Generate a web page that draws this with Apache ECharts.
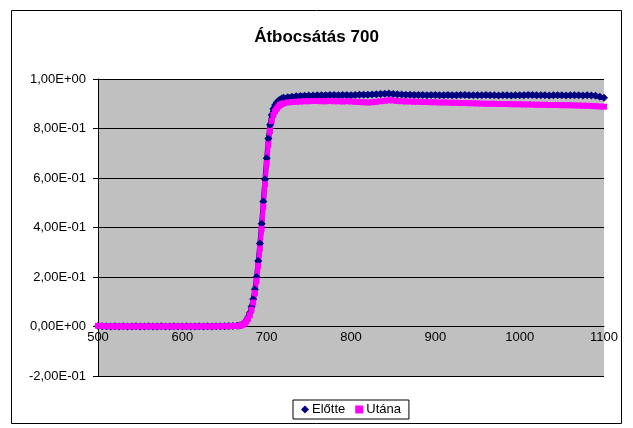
<!DOCTYPE html>
<html>
<head>
<meta charset="utf-8">
<script src="https://cdn.jsdelivr.net/npm/echarts@6/dist/echarts.min.js"></script>
<style>
  html, body { margin: 0; padding: 0; background: #fff; }
  #chart { width: 633px; height: 428px; }
</style>
</head>
<body>
<div id="chart"></div>
<script>
// wavelength (nm) and transmission
var wavelengths = [
  500, 505, 510, 515, 520, 525, 530, 535, 540, 545, 550, 555, 560, 565, 570, 575, 580,
  585, 590, 595, 600, 605, 610, 615, 620, 625, 630, 635, 640, 645, 650, 655, 660, 665,
  668, 670, 672, 674, 676, 678, 680, 682, 684, 686, 688, 690, 692, 694, 696, 698, 700,
  702, 704, 706, 708, 710, 712, 714, 716, 718, 720,
  725, 730, 735, 740, 745, 750, 755, 760, 765, 770, 775, 780, 785, 790, 795, 800,
  805, 810, 815, 820, 825, 830, 835, 840, 845, 850, 855, 860, 865, 870, 875, 880,
  885, 890, 895, 900, 905, 910, 915, 920, 925, 930, 935, 940, 945, 950, 955, 960,
  965, 970, 975, 980, 985, 990, 995, 1000, 1005, 1010, 1015, 1020, 1025, 1030, 1035, 1040,
  1045, 1050, 1055, 1060, 1065, 1070, 1075, 1080, 1085, 1090, 1095, 1100
];
var elotte = [
  0.002, 0.001, 0.001, 0.000, 0.001, 0.000, 0.001, 0.000, 0.000, 0.001, 0.000, 0.000, 0.001, 0.000, 0.000, 0.001, 0.000,
  0.000, 0.001, 0.000, 0.000, 0.001, 0.000, 0.000, 0.001, 0.000, 0.001, 0.000, 0.001, 0.001, 0.001, 0.002, 0.002, 0.003,
  0.004, 0.006, 0.010, 0.016, 0.025, 0.038, 0.055, 0.080, 0.110, 0.150, 0.200, 0.265, 0.335, 0.415, 0.505, 0.595, 0.680,
  0.760, 0.815, 0.855, 0.880, 0.895, 0.905, 0.912, 0.917, 0.921, 0.924,
  0.926, 0.928, 0.930, 0.931, 0.932, 0.933, 0.933, 0.934, 0.934, 0.934, 0.935, 0.935, 0.934, 0.935, 0.935, 0.934,
  0.935, 0.936, 0.936, 0.936, 0.937, 0.938, 0.939, 0.940, 0.941, 0.939, 0.938, 0.937, 0.936, 0.936, 0.935, 0.935,
  0.935, 0.934, 0.935, 0.935, 0.934, 0.934, 0.935, 0.934, 0.934, 0.935, 0.935, 0.934, 0.934, 0.934, 0.934, 0.935,
  0.934, 0.934, 0.933, 0.934, 0.934, 0.933, 0.934, 0.934, 0.934, 0.935, 0.935, 0.934, 0.934, 0.934, 0.933, 0.934,
  0.934, 0.934, 0.933, 0.934, 0.934, 0.934, 0.933, 0.934, 0.933, 0.932, 0.928, 0.924
];
var utana = [
  0.003, 0.002, 0.001, 0.001, 0.000, 0.001, 0.000, 0.001, 0.000, 0.000, 0.001, 0.000, 0.000, 0.001, 0.000, 0.000, 0.001,
  0.000, 0.000, 0.001, 0.000, 0.000, 0.001, 0.000, 0.000, 0.001, 0.000, 0.000, 0.001, 0.001, 0.001, 0.001, 0.002, 0.002,
  0.003, 0.005, 0.008, 0.013, 0.020, 0.031, 0.046, 0.068, 0.097, 0.135, 0.185, 0.245, 0.315, 0.395, 0.485, 0.575, 0.660,
  0.735, 0.790, 0.830, 0.855, 0.870, 0.880, 0.889, 0.895, 0.899, 0.902,
  0.905, 0.907, 0.908, 0.909, 0.910, 0.910, 0.911, 0.911, 0.910, 0.910, 0.911, 0.910, 0.910, 0.909, 0.910, 0.909,
  0.908, 0.907, 0.906, 0.905, 0.906, 0.908, 0.910, 0.912, 0.914, 0.913, 0.911, 0.910, 0.909, 0.909, 0.908, 0.908,
  0.907, 0.907, 0.906, 0.906, 0.905, 0.905, 0.905, 0.904, 0.904, 0.903, 0.903, 0.902, 0.902, 0.901, 0.901, 0.900,
  0.900, 0.900, 0.899, 0.899, 0.899, 0.898, 0.898, 0.898, 0.897, 0.897, 0.897, 0.896, 0.896, 0.896, 0.895, 0.895,
  0.895, 0.894, 0.894, 0.894, 0.893, 0.893, 0.892, 0.892, 0.891, 0.890, 0.889, 0.888
];
var seriesNames = ['Előtte', 'Utána'];
var yTicks = [-0.2, 0, 0.2, 0.4, 0.6, 0.8, 1.0];

function sciLabel(v) {
  // 0.8 -> "8,00E-01"
  var s = Number(v).toExponential(2).split('e');
  var exp = parseInt(s[1], 10);
  var sign = exp < 0 ? '-' : '+';
  var e = Math.abs(exp);
  return s[0].replace('.', ',') + 'E' + sign + (e < 10 ? '0' + e : e);
}

function pairs(ys) {
  return wavelengths.map(function (x, i) { return [x, ys[i]]; });
}

var chart = echarts.init(document.getElementById('chart'));
var font = 'Liberation Sans, Arial, sans-serif';

chart.setOption({
  backgroundColor: '#ffffff',
  animation: false,
  title: {
    text: 'Átbocsátás 700',
    left: 'center',
    top: 24,
    textStyle: { fontFamily: font, fontSize: 17, fontWeight: 'bold', color: '#000' }
  },
  graphic: [{
    type: 'rect',
    shape: { x: 11.5, y: 10.5, width: 610, height: 413 },
    style: { fill: 'none', stroke: '#000', lineWidth: 1 },
    silent: true,
    z: -1
  }],
  legend: {
    data: [
      { name: seriesNames[0], icon: 'diamond' },
      { name: seriesNames[1], icon: 'rect' }
    ],
    left: 293,
    top: 400,
    itemWidth: 8,
    itemHeight: 8,
    itemGap: 10,
    padding: [3, 8],
    borderColor: '#000',
    borderWidth: 1,
    textStyle: { fontFamily: font, fontSize: 13, color: '#000', padding: [0, 0, 0, -2] }
  },
  grid: {
    left: 98,
    right: 29,
    top: 79,
    bottom: 52,
    show: true,
    backgroundColor: '#c0c0c0',
    borderWidth: 0
  },
  xAxis: {
    type: 'value',
    min: 500,
    max: 1100,
    interval: 100,
    offset: -49.5,
    axisLine: { onZero: false, lineStyle: { color: '#000', width: 1 } },
    axisTick: { show: false },
    axisLabel: {
      margin: 4, color: '#000', fontFamily: font, fontSize: 13,
      formatter: function (v) { return String(v); }
    },
    splitLine: { show: false }
  },
  yAxis: {
    type: 'value',
    min: yTicks[0],
    max: yTicks[yTicks.length - 1],
    interval: 0.2,
    axisLine: { show: true, onZero: false, lineStyle: { color: '#000', width: 1 } },
    axisTick: { show: true, inside: false, length: 5, lineStyle: { color: '#000' } },
    axisLabel: { margin: 12, color: '#000', fontFamily: font, fontSize: 13, formatter: sciLabel },
    splitLine: { show: true, lineStyle: { color: '#000', width: 1 } }
  },
  series: [
    {
      name: seriesNames[0],
      type: 'line',
      symbol: 'diamond',
      symbolSize: 8,
      showAllSymbol: true,
      itemStyle: { color: '#000080' },
      lineStyle: { color: '#000080', width: 5 },
      data: pairs(elotte)
    },
    {
      name: seriesNames[1],
      type: 'line',
      symbol: 'rect',
      symbolSize: 6,
      showAllSymbol: true,
      itemStyle: { color: '#ff00ff' },
      lineStyle: { color: '#ff00ff', width: 5 },
      data: pairs(utana)
    }
  ]
});
</script>
</body>
</html>
